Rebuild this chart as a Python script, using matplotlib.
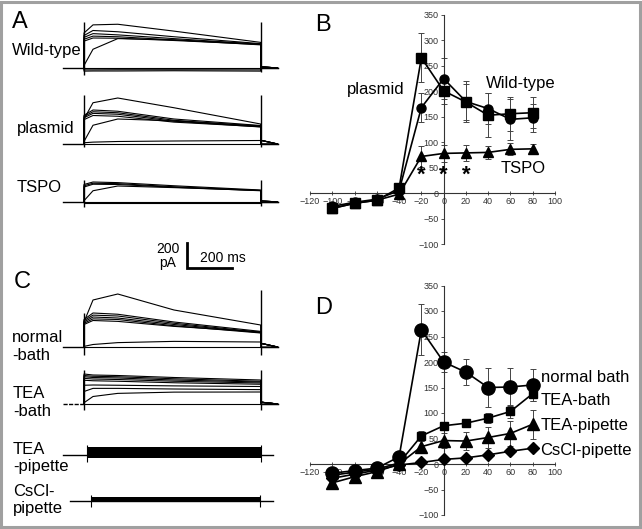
import matplotlib
matplotlib.use("Agg")
import matplotlib.pyplot as plt
from matplotlib.patches import Rectangle

plt.rcParams['font.family'] = ['Liberation Sans', 'DejaVu Sans']

# ---- I-V data, panel B (pA vs mV) ----
voltages = [-100, -80, -60, -40, -20, 0, 20, 40, 60, 80]

wt_mean = [-26, -18, -12, 5, 168, 225, 180, 166, 145, 148]
wt_err = [3, 3, 3, 5, 28, 40, 40, 31, 40, 27]
plasmid_mean = [-30, -20, -14, 10, 266, 201, 179, 153, 156, 158]
plasmid_err = [3, 3, 3, 5, 48, 25, 36, 43, 33, 30]
tspo_mean = [-30, -20, -14, -2, 72, 78, 79, 80, 86, 87]
tspo_err = [3, 3, 3, 3, 21, 16, 16, 12, 12, 10]
star_volts = [-20, 0, 20]

# ---- I-V data, panel D ----
normal_mean = [-18, -13, -8, 14, 263, 200, 180, 150, 151, 155]
normal_err = [3, 3, 3, 4, 50, 20, 26, 38, 38, 31]
teab_mean = [-22, -16, -10, 2, 55, 75, 80, 90, 103, 138]
teab_err = [3, 3, 3, 3, 10, 6, 8, 10, 12, 15]
teap_mean = [-37, -25, -15, 0, 34, 46, 45, 52, 60, 78]
teap_err = [3, 3, 3, 3, 12, 14, 18, 20, 24, 28]
cscl_mean = [-28, -20, -12, -2, 3, 9, 12, 18, 25, 31]
cscl_err = [2, 2, 2, 2, 3, 3, 3, 4, 4, 4]

# ---- current traces (pA above baseline) at these times (ms) ----
key_t = [0, 40, 150, 400, 785]
wt_traces = [[280, 345, 350, 295, 205], [260, 300, 290, 250, 195],
             [245, 275, 265, 235, 190], [230, 255, 250, 225, 185],
             [215, 240, 238, 220, 188], [20, 150, 235, 225, 192],
             [0, 0, 0, 0, 0], [-15, -15, -14, -14, -15], [-25, -24, -24, -22, -25]]
plasmid_traces = [[200, 330, 368, 290, 160], [230, 272, 262, 200, 148],
                  [220, 258, 250, 190, 140], [210, 245, 238, 182, 136],
                  [195, 228, 222, 175, 138], [20, 150, 200, 185, 145],
                  [10, 15, 20, 24, 28], [0, 0, 0, 0, 0]]
tspo_traces = [[140, 160, 155, 130, 96], [130, 150, 147, 122, 92],
               [120, 142, 140, 118, 90], [10, 90, 128, 115, 92],
               [0, 0, 0, 0, 0], [-8, -8, -8, -8, -8]]
normal_traces = [[200, 376, 424, 296, 176], [220, 272, 262, 200, 125],
                 [210, 255, 248, 190, 118], [200, 240, 232, 180, 115],
                 [190, 225, 220, 170, 112], [180, 212, 205, 165, 120],
                 [5, 20, 35, 45, 40], [0, 0, 0, 0, 0]]
teab_traces = [[240, 232, 228, 212, 192], [228, 222, 218, 202, 182],
               [218, 212, 208, 192, 176], [205, 200, 196, 182, 168],
               [190, 186, 182, 170, 158], [150, 152, 150, 145, 140],
               [100, 125, 125, 120, 115], [10, 60, 85, 95, 96],
               [0, 0, 0, 0, 0]]
# capacitive spikes (low, high) at pulse on / off
wt_spikes = [(-56, 368), (-32, 368)]
plasmid_spikes = [(-24, 392), (-24, 392)]
tspo_spikes = [(-40, 176), (-32, 176)]
normal_spikes = [(-64, 272), (-64, 456)]
teab_spikes = [(-48, 272), (-48, 272)]
tails = {'wt': 10, 'plasmid': 30, 'tspo': 10, 'normal': 30, 'teab': 15}
# noisy bands (low, high) in pA
teap_band = (-24, 64)
cscl_band = (-8, 32)

# ---- layout ----
W, H = 642, 529
MS_PX = 4.444   # ms per pixel
PA_PX = 8.0     # pA per pixel
X0 = 84         # pixel of pulse onset
PULSE = 785
T_PRE, T_POST = -95, 860


def base(py):
    return (H - py) * PA_PX


fig = plt.figure(figsize=(W / 100, H / 100), dpi=100)
ax0 = fig.add_axes([0, 0, 1, 1])
ax0.set_xlim(-X0 * MS_PX, (W - X0) * MS_PX)
ax0.set_ylim(0, H * PA_PX)
ax0.axis('off')

LW = 0.8


def draw_group(traces, y0, spikes, tail, dashed_pre=False):
    for v in traces:
        t = [0, 0] + key_t + [PULSE, T_POST]
        i = [0, v[0]] + v + [tail if v[0] > 30 else 0, 0]
        ax0.plot(t, [y0 + a for a in i], color='black', lw=LW)
    ax0.plot([T_PRE, 0], [y0, y0], color='black', lw=1.0,
             ls=(0, (3, 1)) if dashed_pre else '-')
    ax0.plot([PULSE, T_POST], [y0, y0], color='black', lw=1.0)
    ax0.vlines(0, y0 + spikes[0][0], y0 + spikes[0][1], color='black', lw=1.0)
    ax0.vlines(PULSE, y0 + spikes[1][0], y0 + spikes[1][1], color='black', lw=1.0)


draw_group(wt_traces, base(68), wt_spikes, tails['wt'])
draw_group(plasmid_traces, base(144), plasmid_spikes, tails['plasmid'])
draw_group(tspo_traces, base(202), tspo_spikes, tails['tspo'])
draw_group(normal_traces, base(347), normal_spikes, tails['normal'])
draw_group(teab_traces, base(404), teab_spikes, tails['teab'], dashed_pre=True)

# TEA-pipette band
y0 = base(455)
ax0.plot([-95, 840], [y0, y0], color='black', lw=1.0)
ax0.fill_between([12, PULSE], y0 + teap_band[0], y0 + teap_band[1], color='black', lw=0)
ax0.vlines([12, PULSE], y0 - 56, y0 + 80, color='black', lw=0.8)
# CsCl-pipette band
y0 = base(500.5)
ax0.plot([-62, 840], [y0, y0], color='black', lw=1.0)
ax0.fill_between([31, 782], y0 + cscl_band[0], y0 + cscl_band[1], color='black', lw=0)
ax0.vlines([31, 782], y0 - 48, y0 + 48, color='black', lw=0.8)

# scale bar
sb_t, sb_y = (187 - X0) * MS_PX, base(268)
ax0.plot([sb_t, sb_t, sb_t + 200], [sb_y + 200, sb_y, sb_y], color='black', lw=2.0,
         solid_joinstyle='miter')
fig.text(168 / W, 1 - 256 / H, "200\npA", ha='center', va='center', fontsize=10,
         linespacing=1.0)
fig.text(200 / W, 1 - 258 / H, "200 ms", ha='left', va='center', fontsize=10)

# trace labels
trace_labels = [("Wild-type", 12, 50), ("plasmid", 17, 128), ("TSPO", 17, 187),
                ("normal\n-bath", 12, 346), ("TEA\n-bath", 13, 403),
                ("TEA\n-pipette", 13, 458), ("CsCl-\npipette", 13, 500)]
for txt, px, py in trace_labels:
    fig.text(px / W, 1 - py / H, txt, ha='left', va='center', fontsize=12,
             linespacing=1.25)
fig.text(20 / W, 1 - 22 / H, "A", ha='center', va='center', fontsize=17)
fig.text(22 / W, 1 - 282 / H, "C", ha='center', va='center', fontsize=17)


def iv_axes(bottom, height):
    ax = fig.add_axes([310 / W, bottom, 245 / W, height])
    ax.patch.set_alpha(0)
    ax.set_xlim(-120, 100)
    ax.set_ylim(-100, 350)
    for s in ('top', 'right'):
        ax.spines[s].set_visible(False)
    ax.spines['left'].set_position(('data', 0))
    ax.spines['bottom'].set_position(('data', 0))
    for s in ('left', 'bottom'):
        ax.spines[s].set_color('#333333')
        ax.spines[s].set_linewidth(0.8)
    ax.set_xticks(range(-120, 101, 20))
    ax.set_yticks(range(-100, 351, 50))
    ax.tick_params(labelsize=6.5, labelcolor='#333333', color='#333333',
                   length=2, width=0.6, pad=1.5)
    ax.tick_params(axis='x', direction='inout', length=3)
    return ax


def series(ax, mean, err, marker, ms):
    ax.errorbar(voltages, mean, yerr=err, fmt='none', ecolor='#444444',
                elinewidth=0.7, capsize=2, capthick=0.7, zorder=2)
    ax.plot(voltages, mean, color='black', lw=1.2, marker=marker, ms=ms,
            mfc='black', mec='black', zorder=3, clip_on=False)


# panel B
axB = iv_axes((H - 244) / H, 229 / H)
series(axB, wt_mean, wt_err, 'o', 6.5)
series(axB, plasmid_mean, plasmid_err, 's', 6.5)
series(axB, tspo_mean, tspo_err, '^', 7)
for v in star_volts:
    axB.text(v, 35, "*", ha='center', va='center', fontsize=16, fontweight='bold')
axB.text(-61, 203, "plasmid", ha='center', va='center', fontsize=12)
axB.text(69, 216, "Wild-type", ha='center', va='center', fontsize=12)
axB.text(71, 49, "TSPO", ha='center', va='center', fontsize=12)
axB.text(-108, 331, "B", ha='center', va='center', fontsize=17)

# panel D
axD = iv_axes((H - 515) / H, 229.5 / H)
series(axD, normal_mean, normal_err, 'o', 9.5)
series(axD, teab_mean, teab_err, 's', 6)
series(axD, teap_mean, teap_err, '^', 8.5)
series(axD, cscl_mean, cscl_err, 'D', 6)
d_labels = [("normal bath", 169), ("TEA-bath", 124), ("TEA-pipette", 75),
            ("CsCl-pipette", 27)]
for txt, y in d_labels:
    axD.text(87, y, txt, ha='left', va='center', fontsize=12, clip_on=False)
axD.text(-108, 306, "D", ha='center', va='center', fontsize=17)

# frame around the whole figure
fig.patches.append(Rectangle((0.002, 0.003), 0.995, 0.994, transform=fig.transFigure,
                             fill=False, edgecolor='#a0a0a0', lw=2.2))

fig.savefig("out.png", dpi=100)
